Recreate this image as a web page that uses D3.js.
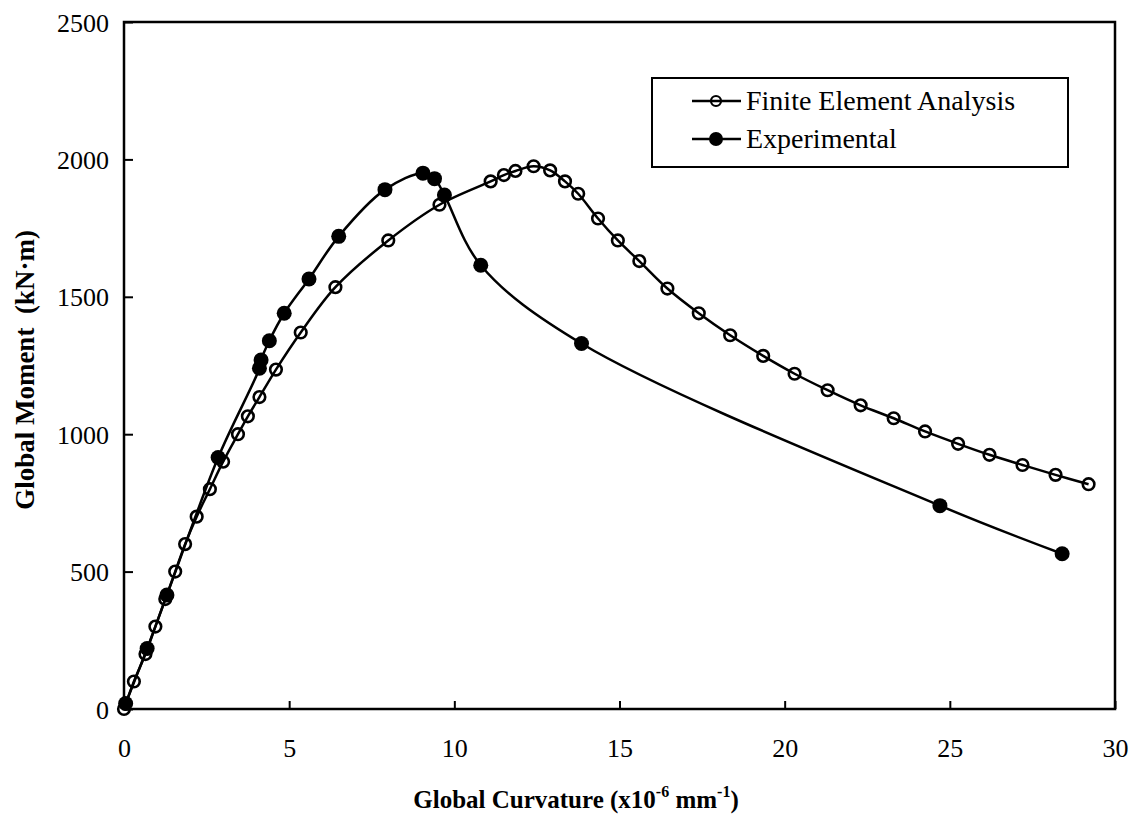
<!DOCTYPE html>
<html>
<head>
<meta charset="utf-8">
<script src="https://cdn.jsdelivr.net/npm/d3@7"></script>
<style>
  html, body { margin: 0; padding: 0; background: #fff; }
  svg { display: block; }
  text { font-family: "Liberation Serif", "Times New Roman", serif; fill: #000; }
</style>
</head>
<body>
<svg id="chart" width="1138" height="819"></svg>
<script>
// Finite element analysis: curvature (x10^-6 mm^-1) and moment (kN·m)
const feaCurvature = [0, 0.3, 0.65, 0.95, 1.25, 1.55, 1.85, 2.2, 2.6, 3.0, 3.45, 3.75, 4.1, 4.6, 5.35, 6.4, 8.0, 9.55,
  11.1, 11.5, 11.85, 12.4, 12.9, 13.35, 13.75, 14.35, 14.95, 15.6, 16.45, 17.4, 18.35, 19.35, 20.3, 21.3,
  22.3, 23.3, 24.25, 25.25, 26.2, 27.2, 28.2, 29.2];
const feaMoment = [0, 100, 200, 300, 400, 500, 600, 700, 800, 900, 1000, 1065, 1135, 1235, 1370, 1535, 1705, 1835,
  1920, 1943, 1958, 1975, 1960, 1920, 1875, 1785, 1705, 1630, 1530, 1440, 1360, 1285, 1220, 1160,
  1105, 1058, 1010, 965, 925, 888, 852, 818];

// Experimental: curvature and moment
const expCurvature = [0.05, 0.7, 1.3, 2.85, 4.1, 4.15, 4.4, 4.85, 5.6, 6.5, 7.9, 9.05, 9.4, 9.7, 10.8, 13.85, 24.7, 28.4];
const expMoment = [20, 220, 415, 915, 1240, 1270, 1340, 1440, 1565, 1720, 1890, 1950, 1930, 1870, 1615, 1330, 740, 565];

const xTicks = [0, 5, 10, 15, 20, 25, 30];
const yTicks = [0, 500, 1000, 1500, 2000, 2500];
const seriesNames = ["Finite Element Analysis", "Experimental"];

const svg = d3.select("#chart");
const plotLeft = 124, plotRight = 1115, plotTop = 22, plotBottom = 709;

const x = d3.scaleLinear().domain([0, 30]).range([plotLeft, plotRight]);
const y = d3.scaleLinear().domain([0, 2500]).range([plotBottom, plotTop]);

const fea = feaCurvature.map((c, i) => ({ c, m: feaMoment[i] }));
const exp = expCurvature.map((c, i) => ({ c, m: expMoment[i] }));

// Axes with inward ticks
const xAxis = d3.axisBottom(x).tickValues(xTicks).tickFormat(d3.format("d"))
  .tickSizeInner(-8).tickSizeOuter(0).tickPadding(30);
const yAxis = d3.axisLeft(y).tickValues(yTicks).tickFormat(d3.format("d"))
  .tickSizeInner(-9).tickSizeOuter(0).tickPadding(15);

const gx = svg.append("g").attr("transform", `translate(0,${plotBottom})`).call(xAxis);
const gy = svg.append("g").attr("transform", `translate(${plotLeft},0)`).call(yAxis);
[gx, gy].forEach(g => {
  g.select(".domain").remove();
  g.selectAll("line").attr("stroke", "#000").attr("stroke-width", 2);
  g.selectAll("text").style("font-family", "'Liberation Serif', serif").style("font-size", "26px").attr("fill", "#000");
});
gy.selectAll("text").attr("dy", "0.35em");

// Plot frame
svg.append("rect")
  .attr("x", plotLeft).attr("y", plotTop)
  .attr("width", plotRight - plotLeft).attr("height", plotBottom - plotTop)
  .attr("fill", "none").attr("stroke", "#000").attr("stroke-width", 2.5);

// Lines
const line = d3.line().x(d => x(d.c)).y(d => y(d.m)).curve(d3.curveCatmullRom.alpha(0.5));

svg.append("path").datum(fea).attr("d", line)
  .attr("fill", "none").attr("stroke", "#000").attr("stroke-width", 2.5);
svg.append("path").datum(exp).attr("d", line)
  .attr("fill", "none").attr("stroke", "#000").attr("stroke-width", 2.5);

// Markers
svg.append("g").selectAll("circle").data(fea).join("circle")
  .attr("cx", d => x(d.c)).attr("cy", d => y(d.m)).attr("r", 5.8)
  .attr("fill", "none").attr("stroke", "#000").attr("stroke-width", 2.6);
svg.append("g").selectAll("circle").data(exp).join("circle")
  .attr("cx", d => x(d.c)).attr("cy", d => y(d.m)).attr("r", 7.5)
  .attr("fill", "#000");

// Axis titles
const xt = svg.append("text")
  .attr("x", 576).attr("y", 808)
  .attr("text-anchor", "middle")
  .style("font-size", "25px").style("font-weight", "bold");
xt.append("tspan").text("Global Curvature (x10");
xt.append("tspan").attr("dy", -11).style("font-size", "16px").text("-6");
xt.append("tspan").attr("dy", 11).text(" mm");
xt.append("tspan").attr("dy", -11).style("font-size", "16px").text("-1");
xt.append("tspan").attr("dy", 11).text(")");

svg.append("text")
  .attr("transform", "translate(34,370) rotate(-90)")
  .attr("text-anchor", "middle")
  .style("font-size", "27px").style("font-weight", "bold")
  .style("white-space", "pre").attr("xml:space", "preserve")
  .text("Global Moment  (kN·m)");

// Legend
const lg = svg.append("g");
lg.append("rect").attr("x", 652).attr("y", 78).attr("width", 416).attr("height", 89)
  .attr("fill", "#fff").attr("stroke", "#000").attr("stroke-width", 2);
seriesNames.forEach((name, i) => {
  const ly = 101 + i * 38;
  lg.append("line").attr("x1", 692).attr("x2", 741).attr("y1", ly).attr("y2", ly)
    .attr("stroke", "#000").attr("stroke-width", 2.5);
  if (i === 0) {
    lg.append("circle").attr("cx", 716).attr("cy", ly).attr("r", 5)
      .attr("fill", "none").attr("stroke", "#000").attr("stroke-width", 2.2);
  } else {
    lg.append("circle").attr("cx", 716).attr("cy", ly).attr("r", 7).attr("fill", "#000");
  }
  lg.append("text").attr("x", 746).attr("y", ly + 9)
    .style("font-size", "28px").text(name);
});
</script>
</body>
</html>
